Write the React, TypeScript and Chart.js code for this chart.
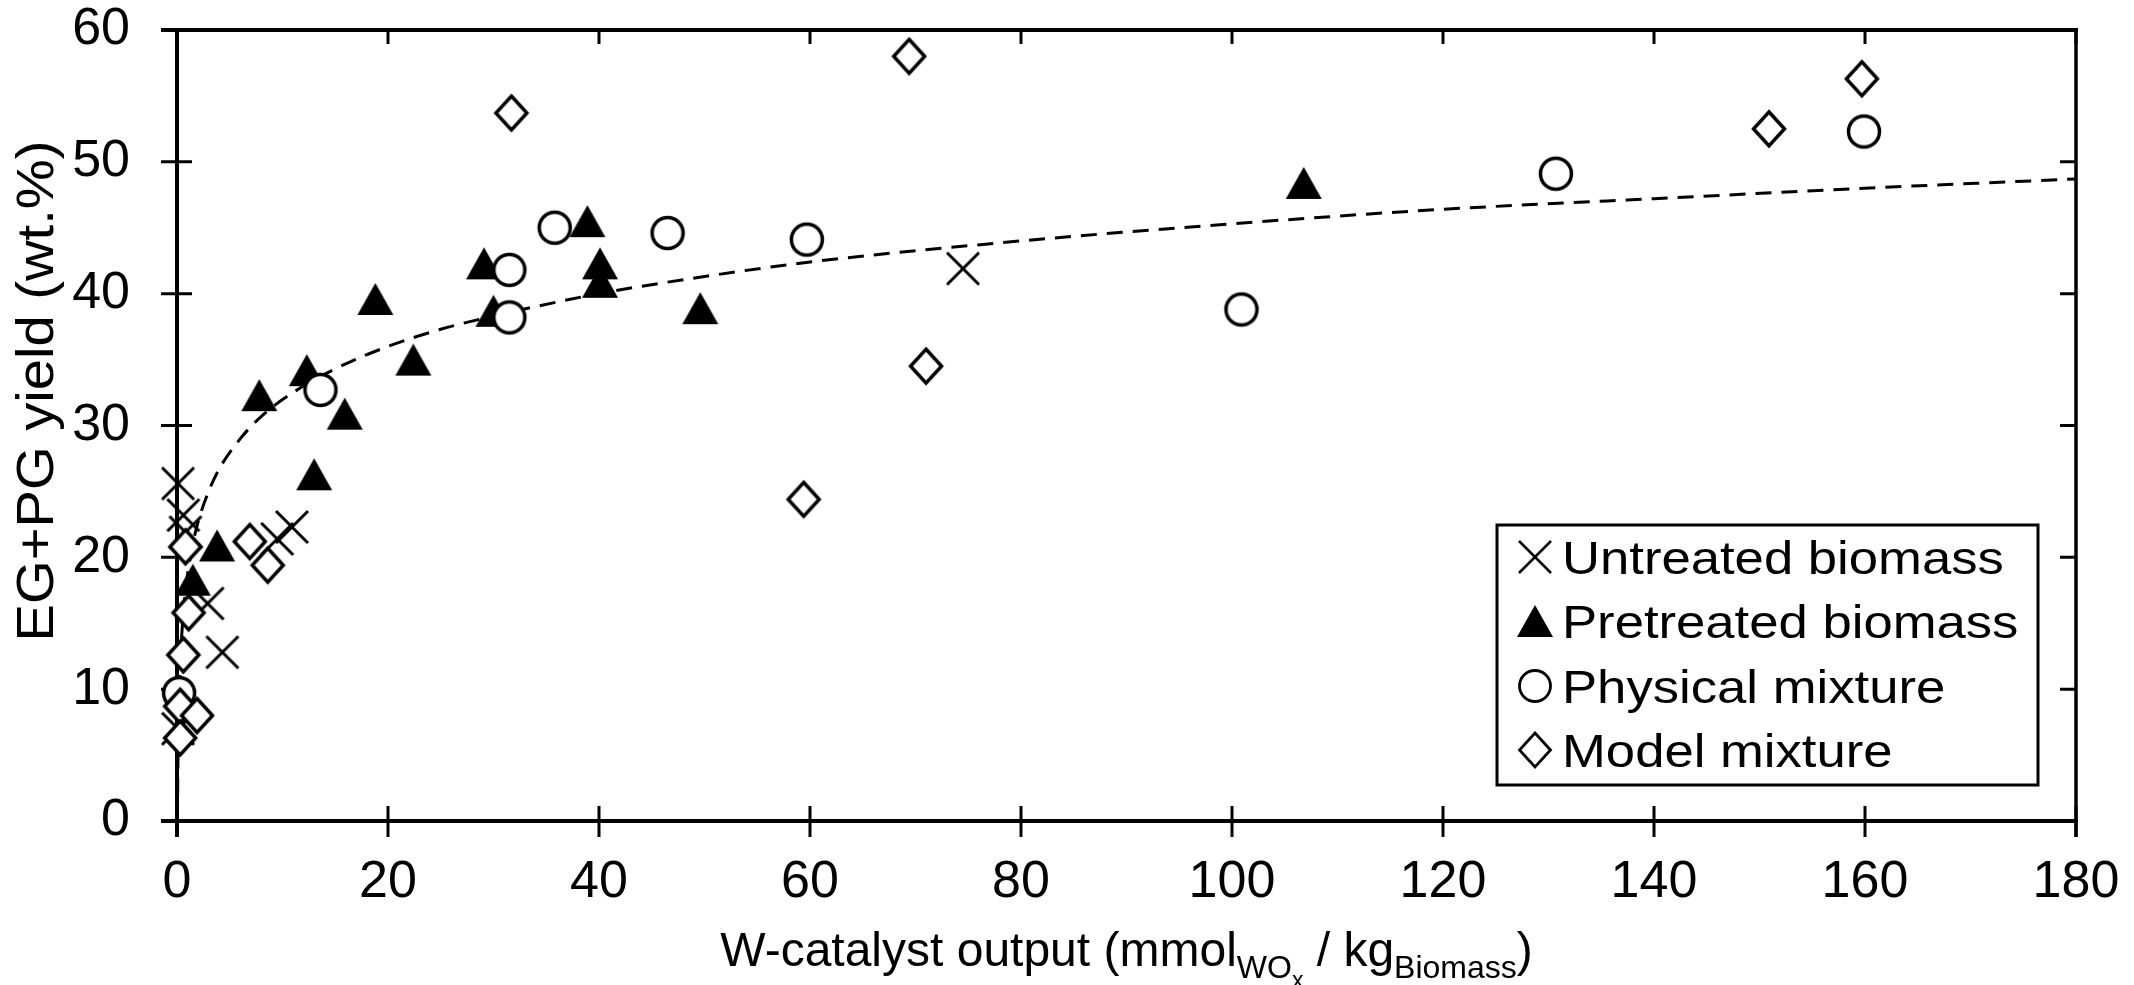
import React, { useEffect, useRef } from 'react';
import { Chart, registerables } from 'chart.js';

Chart.register(...registerables);

// ---------- data ----------
const untreatedX = [0.1, 0.6, 0.8, 2.9, 4.3, 9.5, 10.9, 0.1, 74.5];
const untreatedY = [25.6, 23.2, 21.9, 16.5, 12.8, 21.4, 22.3, 7.0, 41.9];

const pretreatedX = [1.5, 3.8, 7.8, 12.3, 13.0, 15.9, 18.8, 22.4, 29.1, 30.0, 38.9, 40.1, 40.1, 49.6, 106.8];
const pretreatedY = [18.3, 20.9, 32.3, 34.2, 26.3, 30.9, 39.6, 35.0, 42.3, 38.7, 45.5, 42.3, 40.9, 38.9, 48.4];

const physicalX = [0.2, 13.6, 31.5, 31.5, 35.8, 46.5, 59.7, 100.9, 130.7, 159.9];
const physicalY = [9.7, 32.7, 41.8, 38.2, 45.0, 44.6, 44.1, 38.8, 49.1, 52.3];

const modelX = [0.8, 1.1, 0.6, 0.3, 1.9, 0.3, 6.9, 8.6, 31.7, 59.4, 69.4, 71.0, 150.9, 159.7];
const modelY = [20.8, 15.8, 12.6, 8.7, 8.0, 6.3, 21.2, 19.4, 53.7, 24.4, 58.0, 34.5, 52.5, 56.3];

// dashed trend curve
const trendX = [0.04, 0.1, 0.2, 0.4, 0.7, 1, 1.5, 2, 3, 4, 6, 8, 11, 15, 20, 25, 30, 40, 50, 60, 80, 100, 120, 140, 160, 180];
const trendY = [0.0, 5.4, 9.4, 13.4, 16.6, 18.7, 21.0, 22.7, 25.0, 26.7, 29.0, 30.7, 32.5, 34.3, 36.0, 37.3, 38.3, 40.0, 41.3, 42.4, 44.0, 45.3, 46.4, 47.2, 48.0, 48.7];

const seriesLabels = ['Untreated biomass', 'Pretreated biomass', 'Physical mixture', 'Model mixture'];

const xTickValues = [0, 20, 40, 60, 80, 100, 120, 140, 160, 180];
const yTickValues = [0, 10, 20, 30, 40, 50, 60];

const xTitleParts = ['W-catalyst output (mmol', 'WO', 'x', ' / kg', 'Biomass', ')'];
const yTitle = 'EG+PG yield (wt.%)';

const FONT = '"Liberation Sans", Arial, Helvetica, sans-serif';

// ---------- marker images ----------
function mk(w: number, h: number) {
  const c = document.createElement('canvas');
  c.width = w;
  c.height = h;
  return c;
}
function makeCross(lw: number) {
  const c = mk(38, 38);
  const g = c.getContext('2d')!;
  g.strokeStyle = '#000';
  g.lineWidth = lw;
  g.beginPath();
  g.moveTo(3, 3); g.lineTo(35, 35);
  g.moveTo(35, 3); g.lineTo(3, 35);
  g.stroke();
  return c;
}
function makeTriangle() {
  const c = mk(38, 34);
  const g = c.getContext('2d')!;
  g.fillStyle = '#000';
  g.beginPath();
  g.moveTo(19, 1); g.lineTo(37, 33); g.lineTo(1, 33);
  g.closePath();
  g.fill();
  return c;
}
function makeCircle(lw: number) {
  const c = mk(38, 38);
  const g = c.getContext('2d')!;
  g.fillStyle = '#fff';
  g.strokeStyle = '#000';
  g.lineWidth = lw;
  g.beginPath();
  g.arc(19, 19, 15.5, 0, Math.PI * 2);
  g.fill();
  g.stroke();
  return c;
}
function makeDiamond(lw: number) {
  const c = mk(40, 42);
  const g = c.getContext('2d')!;
  g.fillStyle = '#fff';
  g.strokeStyle = '#000';
  g.lineWidth = lw;
  g.beginPath();
  g.moveTo(20, 4); g.lineTo(35.5, 21); g.lineTo(20, 38); g.lineTo(4.5, 21);
  g.closePath();
  g.fill();
  g.stroke();
  return c;
}

function pts(xs: number[], ys: number[]) {
  return xs.map((x, i) => ({ x, y: ys[i] }));
}

export default function App() {
  const ref = useRef<HTMLCanvasElement>(null);

  useEffect(() => {
    const canvas = ref.current!;
    const plotMarkers = [makeCross(3), makeTriangle(), makeCircle(3.5), makeDiamond(3.5)];
    const legendMarkers = [makeCross(2.5), makeTriangle(), makeCircle(2.8), makeDiamond(2.8)];

    const framePlugin = {
      id: 'frameAndDecor',
      beforeDatasetsDraw(chart: any) {
        const { ctx, chartArea: a, scales } = chart;
        const xs = scales.x;
        const ys = scales.y;
        ctx.save();
        ctx.strokeStyle = '#000';
        ctx.lineCap = 'butt';
        ctx.lineWidth = 3;
        ctx.beginPath();
        for (const v of xTickValues) {
          const px = xs.getPixelForValue(v);
          ctx.moveTo(px, a.bottom - 15);
          ctx.lineTo(px, a.bottom + 16);
          ctx.moveTo(px, a.top);
          ctx.lineTo(px, a.top + 14);
        }
        for (const v of yTickValues) {
          const py = ys.getPixelForValue(v);
          ctx.moveTo(a.left - 16, py);
          ctx.lineTo(a.left + 15, py);
          ctx.moveTo(a.right - 16, py);
          ctx.lineTo(a.right, py);
        }
        ctx.stroke();
        ctx.lineWidth = 4;
        ctx.beginPath();
        ctx.moveTo(a.left, a.top - 2);
        ctx.lineTo(a.left, a.bottom + 16);
        ctx.moveTo(a.left - 16, a.bottom);
        ctx.lineTo(a.right + 2, a.bottom);
        ctx.moveTo(a.left - 16, a.top);
        ctx.lineTo(a.right + 2, a.top);
        ctx.stroke();
        ctx.lineWidth = 3.5;
        ctx.beginPath();
        ctx.moveTo(a.right, a.top);
        ctx.lineTo(a.right, a.bottom + 16);
        ctx.stroke();
        ctx.restore();
      },
      afterDraw(chart: any) {
        const { ctx, chartArea: a } = chart;
        ctx.save();
        ctx.fillStyle = '#000';

        // y title
        ctx.save();
        ctx.translate(53, 391);
        ctx.rotate(-Math.PI / 2);
        ctx.scale(1.08, 1);
        ctx.font = `52px ${FONT}`;
        ctx.textAlign = 'center';
        ctx.textBaseline = 'alphabetic';
        ctx.fillText(yTitle, 0, 0);
        ctx.restore();

        // x title with subscripts
        const sizes = [48, 32, 23, 48, 32, 48];
        const dys = [0, 12, 22, 0, 12, 0];
        let total = 0;
        const widths: number[] = [];
        xTitleParts.forEach((t, i) => {
          ctx.font = `${sizes[i]}px ${FONT}`;
          const w = ctx.measureText(t).width;
          widths.push(w);
          total += w;
        });
        let cx = (a.left + a.right) / 2 - total / 2;
        const base = 966;
        ctx.textAlign = 'left';
        ctx.textBaseline = 'alphabetic';
        xTitleParts.forEach((t, i) => {
          ctx.font = `${sizes[i]}px ${FONT}`;
          ctx.fillText(t, cx, base + dys[i]);
          cx += widths[i];
        });

        // legend
        ctx.strokeStyle = '#000';
        ctx.lineWidth = 3;
        ctx.strokeRect(1497, 525, 541, 260);
        const rowCenters = [557, 621, 686, 750];
        seriesLabels.forEach((lab, i) => {
          const m = legendMarkers[i];
          ctx.drawImage(m, 1535 - m.width / 2, rowCenters[i] - m.height / 2);
          ctx.save();
          ctx.translate(1562, rowCenters[i] + 16.5);
          ctx.scale(1.12, 1);
          ctx.font = `47px ${FONT}`;
          ctx.textAlign = 'left';
          ctx.textBaseline = 'alphabetic';
          ctx.fillText(lab, 0, 0);
          ctx.restore();
        });
        ctx.restore();
      },
    };

    const common = { showLine: false, clip: false as const, pointRadius: 17, pointHoverRadius: 17 };

    const chart = new Chart(canvas, {
      type: 'scatter',
      data: {
        datasets: [
          { ...common, label: seriesLabels[0], data: pts(untreatedX, untreatedY), pointStyle: plotMarkers[0], order: 4 },
          { ...common, label: seriesLabels[1], data: pts(pretreatedX, pretreatedY), pointStyle: plotMarkers[1], order: 3 },
          { ...common, label: seriesLabels[2], data: pts(physicalX, physicalY), pointStyle: plotMarkers[2], order: 2 },
          { ...common, label: seriesLabels[3], data: pts(modelX, modelY), pointStyle: plotMarkers[3], order: 1 },
          {
            label: 'trend',
            data: pts(trendX, trendY),
            showLine: true,
            pointRadius: 0,
            pointHoverRadius: 0,
            borderColor: '#000',
            borderWidth: 3,
            borderDash: [16, 10],
            cubicInterpolationMode: 'monotone',
            clip: false,
            order: 10,
          } as any,
        ],
      },
      options: {
        responsive: false,
        maintainAspectRatio: false,
        animation: false,
        events: [],
        layout: { padding: { top: 30, right: 58, left: 0, bottom: 0 } },
        plugins: {
          legend: { display: false },
          tooltip: { enabled: false },
          title: { display: false },
        },
        scales: {
          x: {
            type: 'linear',
            position: 'bottom',
            min: 0,
            max: 180,
            grid: { display: false, drawTicks: false },
            border: { display: false },
            ticks: {
              stepSize: 20,
              autoSkip: false,
              maxRotation: 0,
              padding: 36,
              color: '#000',
              font: { family: FONT, size: 52, lineHeight: 1 },
            },
            afterFit: (s: any) => {
              s.height = 164;
              s.paddingLeft = 0;
              s.paddingRight = 0;
            },
          },
          y: {
            type: 'linear',
            position: 'left',
            min: 0,
            max: 60,
            grid: { display: false, drawTicks: false },
            border: { display: false },
            ticks: {
              stepSize: 10,
              padding: 47,
              color: '#000',
              font: { family: FONT, size: 52, lineHeight: 1 },
            },
            afterFit: (s: any) => {
              s.width = 177;
              s.paddingTop = 0;
              s.paddingBottom = 0;
            },
          },
        },
      },
      plugins: [framePlugin],
    });
    return () => chart.destroy();
  }, []);

  return (
    <div style={{ position: 'fixed', left: 0, top: 0, width: 2134, height: 985, background: '#fff' }}>
      <canvas ref={ref} width={2134} height={985} style={{ display: 'block', width: 2134, height: 985 }} />
    </div>
  );
}
